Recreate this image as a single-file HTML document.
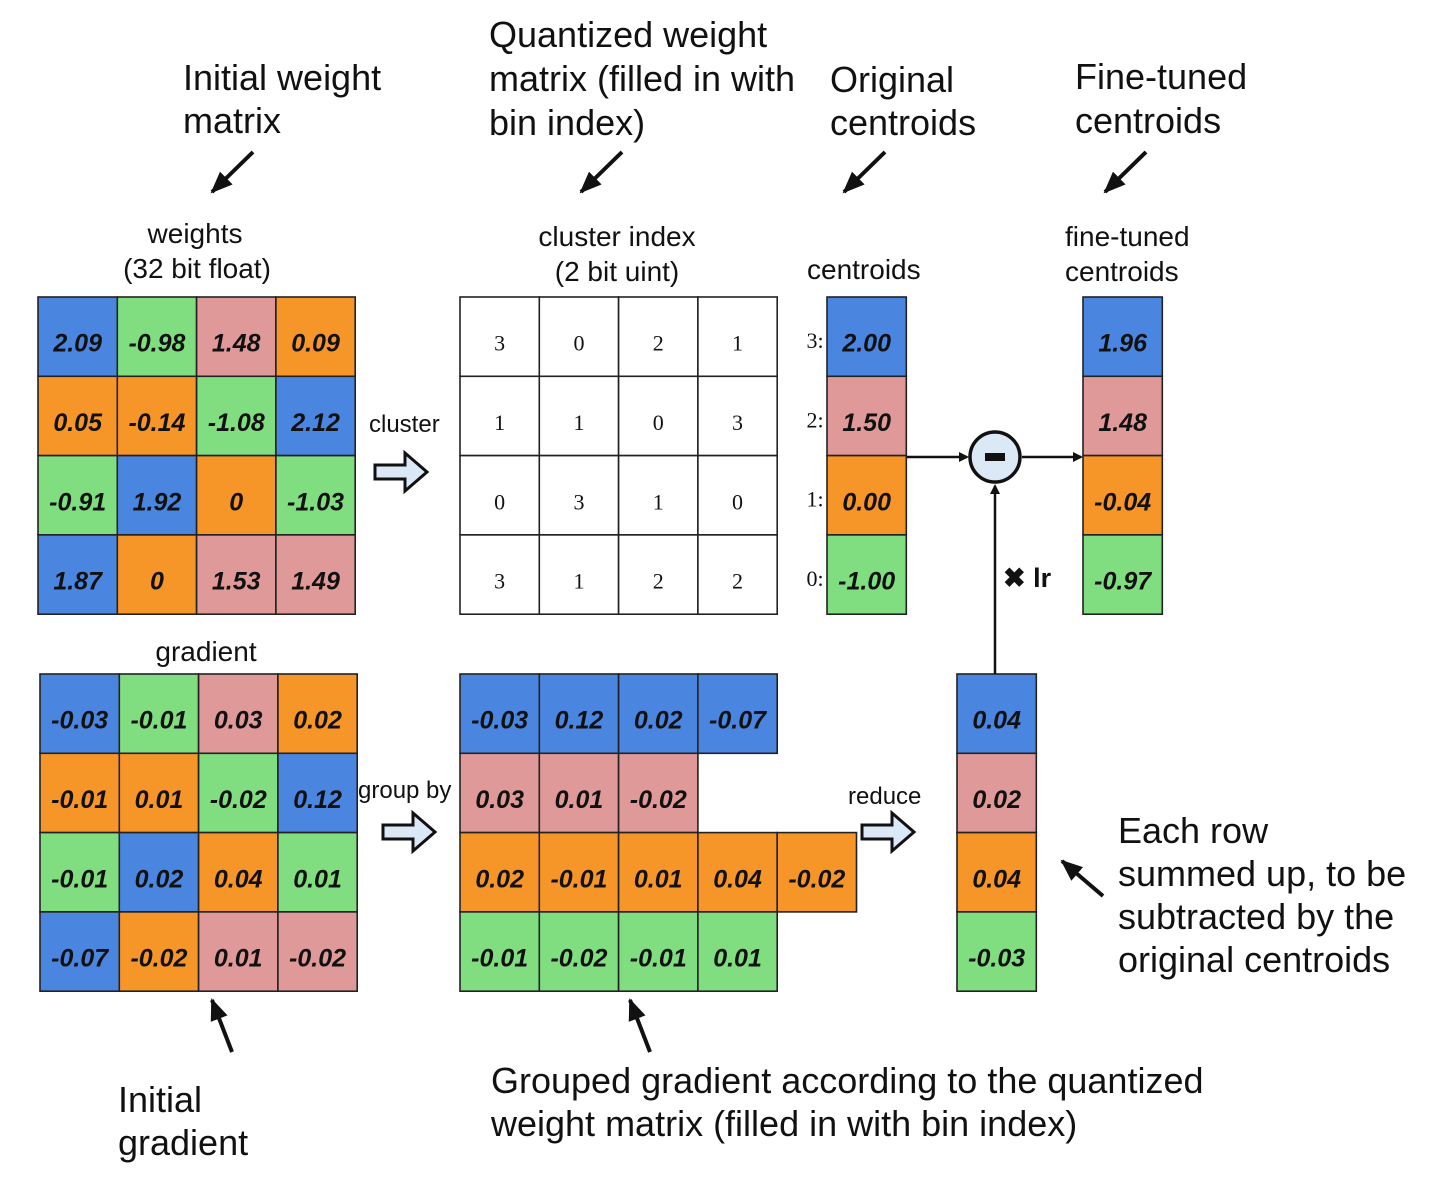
<!DOCTYPE html>
<html><head><meta charset="utf-8"><style>
html,body{margin:0;padding:0;background:#fff}
svg{display:block}
text{font-family:"Liberation Sans",sans-serif;fill:#111}
.num{font-weight:bold;font-style:italic;font-size:25px;text-anchor:middle}
.idx{font-family:"Liberation Serif",serif;font-size:22px;text-anchor:middle}
.lab{font-size:28px}
.ann{font-size:36px}
</style></head><body>
<svg id="s" width="1440" height="1186" viewBox="0 0 1440 1186" xmlns="http://www.w3.org/2000/svg">
<defs>
<marker id="ah" markerWidth="10" markerHeight="10" refX="8" refY="5" orient="auto" markerUnits="userSpaceOnUse"><path d="M0,0 L10,5 L0,10 z" fill="#111"/></marker>
<marker id="ah2" markerWidth="22" markerHeight="18" refX="20" refY="9" orient="auto" markerUnits="userSpaceOnUse"><path d="M0,0 L22,9 L0,18 z" fill="#111"/></marker>
</defs>
</svg>
<script>
const COLORS = {b:"#4a86e0", g:"#80dd80", p:"#e09999", o:"#f79628"};
const weightVals = [["2.09","-0.98","1.48","0.09"],["0.05","-0.14","-1.08","2.12"],["-0.91","1.92","0","-1.03"],["1.87","0","1.53","1.49"]];
const clusterIdx = [[3,0,2,1],[1,1,0,3],[0,3,1,0],[3,1,2,2]];
const gradVals = [["-0.03","-0.01","0.03","0.02"],["-0.01","0.01","-0.02","0.12"],["-0.01","0.02","0.04","0.01"],["-0.07","-0.02","0.01","-0.02"]];
const centroidVals = ["2.00","1.50","0.00","-1.00"];
const fineTunedVals = ["1.96","1.48","-0.04","-0.97"];
const groupedVals = [["-0.03","0.12","0.02","-0.07"],["0.03","0.01","-0.02"],["0.02","-0.01","0.01","0.04","-0.02"],["-0.01","-0.02","-0.01","0.01"]];
const reducedVals = ["0.04","0.02","0.04","-0.03"];
const idxColor = ["g","o","p","b"];
const rowColor = ["b","p","o","g"];

const svg = document.getElementById('s');
const NS = "http://www.w3.org/2000/svg";
const C = 79.3;
function mk(tag, attrs, parent){const e=document.createElementNS(NS,tag);for(const k in attrs)e.setAttribute(k,attrs[k]);(parent||svg).appendChild(e);return e;}
function txt(x,y,s,cls,extra){const t=mk('text',Object.assign({x:x,y:y,class:cls},extra||{}));t.textContent=s;return t;}
function cell(x,y,color,label,cls,name){
  const g=mk('g',{});
  
  
  mk('rect',{x:x,y:y,width:C,height:C,fill:color,stroke:"#222","stroke-width":1.6},g);
  const t=mk('text',{x:x+C/2,y:y+C/2+(cls==="num"?15:14),class:cls},g);t.textContent=label;
}
weightVals.forEach((row,r)=>row.forEach((v,c)=>cell(38+c*C,297+r*C,COLORS[idxColor[clusterIdx[r][c]]],v,"num","weight-cell")));
clusterIdx.forEach((row,r)=>row.forEach((v,c)=>cell(460+c*C,297+r*C,"#fff",String(v),"idx","cluster-index-cell")));
gradVals.forEach((row,r)=>row.forEach((v,c)=>cell(40+c*C,674+r*C,COLORS[idxColor[clusterIdx[r][c]]],v,"num","gradient-cell")));
centroidVals.forEach((v,i)=>{cell(827,297+i*C,COLORS[rowColor[i]],v,"num","centroid-cell");txt(815,348+i*C,(3-i)+":","idx");});
fineTunedVals.forEach((v,i)=>cell(1083,297+i*C,COLORS[rowColor[i]],v,"num","fine-tuned-centroid-cell"));
groupedVals.forEach((row,r)=>row.forEach((v,c)=>cell(460+c*C,674+r*C,COLORS[rowColor[r]],v,"num","grouped-gradient-cell")));
reducedVals.forEach((v,i)=>cell(957,674+i*C,COLORS[rowColor[i]],v,"num","reduced-gradient-cell"));

const labels=[
 [195,243,"weights","lab","middle"],[197,278,"(32 bit float)","lab","middle"],
 [617,246,"cluster index","lab","middle"],[617,281,"(2 bit uint)","lab","middle"],
 [807,279,"centroids","lab","start"],[1065,246,"fine-tuned","lab","start"],[1065,281,"centroids","lab","start"],
 [206,661,"gradient","lab","middle"],
 [183,90,"Initial weight","ann","start"],[183,133,"matrix","ann","start"],
 [489,47,"Quantized weight","ann","start"],[489,91,"matrix (filled in with","ann","start"],[489,135,"bin index)","ann","start"],
 [830,92,"Original","ann","start"],[830,135,"centroids","ann","start"],
 [1075,89,"Fine-tuned","ann","start"],[1075,133,"centroids","ann","start"],
 [1118,843,"Each row","ann","start"],[1118,886,"summed up, to be","ann","start"],[1118,929,"subtracted by the","ann","start"],[1118,972,"original centroids","ann","start"],
 [118,1112,"Initial","ann","start"],[118,1155,"gradient","ann","start"],
 [491,1093,"Grouped gradient according to the quantized","ann","start"],[491,1136,"weight matrix (filled in with bin index)","ann","start"]
];
labels.forEach(l=>{const t=txt(l[0],l[1],l[2],l[3],{"text-anchor":l[4]});});
[[369,432,"cluster"],[358,798,"group by"],[848,804,"reduce"]].forEach(l=>{const t=txt(l[0],l[1],l[2],"",{style:"font-size:24px"});});
const lr=txt(1003,587,"✖ lr","",{style:"font-weight:bold;font-size:27px"});


function block(x,y){const p=mk('path',{d:`M${x},${y+10} h30 v-12 l22,19 l-22,19 v-12 h-30 z`,fill:"#dbe8f6",stroke:"#111","stroke-width":3});
}
block(375,455);block(383,815);block(862,815);

function ptr(x1,y1,x2,y2){const l=mk('line',{x1:x1,y1:y1,x2:x2,y2:y2,stroke:"#111","stroke-width":4,"marker-end":"url(#ah2)"});
}
ptr(253,152,212,192);ptr(622,152,581,192);ptr(885,152,844,192);ptr(1146,152,1105,192);
ptr(232,1052,212,1000);ptr(650,1052,630,1000);ptr(1103,896,1062,861);

mk('line',{x1:907,y1:457,x2:967,y2:457,stroke:"#111","stroke-width":2.5,"marker-end":"url(#ah)"});
mk('line',{x1:1022,y1:457,x2:1081,y2:457,stroke:"#111","stroke-width":2.5,"marker-end":"url(#ah)"});
mk('line',{x1:995,y1:674,x2:995,y2:486,stroke:"#111","stroke-width":2.5,"marker-end":"url(#ah)"});
const circ=mk('g',{});


mk('circle',{cx:995,cy:457,r:25,fill:"#dbe8f6",stroke:"#111","stroke-width":3.5},circ);
mk('rect',{x:985,y:453,width:20,height:8,fill:"#111"},circ);
</script>
</body></html>
